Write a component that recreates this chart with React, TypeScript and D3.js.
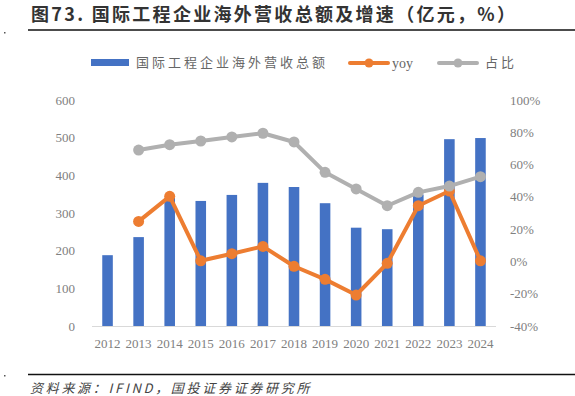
import * as d3 from "d3";

const years = ["2012", "2013", "2014", "2015", "2016", "2017", "2018", "2019", "2020", "2021", "2022", "2023", "2024"];
// 国际工程企业海外营收总额 (亿元)
const revenue = [188, 236, 340, 332, 348, 380, 369, 326, 261, 257, 349, 496, 499];
// yoy (%)
const yoy: (number | null)[] = [null, 24.8, 40.3, 0.4, 4.8, 9.3, -3.0, -11.1, -20.8, -1.2, 34.5, 43.6, 0.4];
// 占比 (%)
const share: (number | null)[] = [null, 69.0, 72.3, 74.6, 77.1, 79.4, 74.0, 55.2, 44.9, 34.5, 42.8, 46.7, 52.5];

const leftTicks = [0, 100, 200, 300, 400, 500, 600];
const rightTicks = [-40, -20, 0, 20, 40, 60, 80, 100];

const BLUE = "#4472C4";
const ORANGE = "#ED7D31";
const GRAY = "#B0B0B0";
const serif = "'Liberation Serif', 'Times New Roman', serif";
const cjk = "'Noto Sans CJK SC', sans-serif";

export default function App() {
  const width = 575;
  const height = 396;
  const plotLeft = 92;
  const plotRight = 496;
  const plotTop = 100;
  const plotBottom = 326;

  const x = d3.scaleBand<string>()
    .domain(years)
    .range([plotLeft, plotRight])
    .paddingInner(0.66)
    .paddingOuter(0.33);

  const yL = d3.scaleLinear().domain([0, 600]).range([plotBottom, plotTop]);
  const yR = d3.scaleLinear().domain([-40, 100]).range([plotBottom, plotTop]);

  const cx = (i: number) => (x(years[i]) ?? 0) + x.bandwidth() / 2;

  const line = d3.line<number | null>()
    .defined(d => d !== null)
    .x((_, i) => cx(i))
    .y(d => yR(d as number));

  return (
    <svg width={width} height={height} style={{ position: "absolute", left: 0, top: 0, background: "#fff" }}>
      {/* title */}
      <text x={31} y={21} fontFamily={cjk} fontWeight={700} fontSize={18} letterSpacing={2.3} fill="#333">
        图73. 国际工程企业海外营收总额及增速（亿元，%）
      </text>
      <line x1={28} x2={575} y1={30} y2={30} stroke="#111" strokeWidth={1.6} />
      <rect x={4} y={32} width={1.5} height={1.5} fill="#555" />

      {/* legend */}
      <rect x={91} y={59} width={38} height={7} fill={BLUE} />
      <text x={136} y={67} fontFamily={cjk} fontSize={13} letterSpacing={3} fill="#666">国际工程企业海外营收总额</text>
      <line x1={350} x2={388} y1={63} y2={63} stroke={ORANGE} strokeWidth={4} strokeLinecap="round" />
      <circle cx={369} cy={63} r={4.5} fill={ORANGE} />
      <text x={392} y={68} fontFamily={serif} fontSize={14} fill="#666">yoy</text>
      <line x1={439} x2={477} y1={63} y2={63} stroke={GRAY} strokeWidth={4} strokeLinecap="round" />
      <circle cx={458} cy={63} r={4.5} fill={GRAY} />
      <text x={485} y={67} fontFamily={cjk} fontSize={13} letterSpacing={3} fill="#666">占比</text>

      {/* left axis */}
      {leftTicks.map(t => (
        <text key={t} x={75} y={yL(t) + 4.5} textAnchor="end" fontFamily={serif} fontSize={13} fill="#808080">{t}</text>
      ))}
      {/* right axis */}
      {rightTicks.map(t => (
        <text key={t} x={510} y={yR(t) + 4.5} fontFamily={serif} fontSize={13} fill="#808080">{t}%</text>
      ))}

      {/* bars */}
      {revenue.map((v, i) => (
        <rect key={years[i]} x={x(years[i])} y={yL(v)} width={x.bandwidth()} height={yL(0) - yL(v)} fill={BLUE} />
      ))}

      <line x1={plotLeft} x2={plotRight} y1={plotBottom + 0.5} y2={plotBottom + 0.5} stroke="#D9D9D9" strokeWidth={1} />

      {/* x labels */}
      {years.map((yr, i) => (
        <text key={yr} x={cx(i)} y={348} textAnchor="middle" fontFamily={serif} fontSize={13} fill="#808080">{yr}</text>
      ))}

      {/* yoy */}
      <path d={line(yoy) || undefined} fill="none" stroke={ORANGE} strokeWidth={4} strokeLinejoin="round" />
      {yoy.map((v, i) => v === null ? null : (
        <circle key={i} cx={cx(i)} cy={yR(v)} r={5.5} fill={ORANGE} />
      ))}

      {/* share */}
      <path d={line(share) || undefined} fill="none" stroke={GRAY} strokeWidth={4} strokeLinejoin="round" />
      {share.map((v, i) => v === null ? null : (
        <circle key={i} cx={cx(i)} cy={yR(v)} r={5.5} fill={GRAY} />
      ))}

      {/* footer */}
      <line x1={28} x2={575} y1={374.5} y2={374.5} stroke="#111" strokeWidth={1.4} />
      <rect x={4} y={375} width={1.5} height={1.5} fill="#555" />
      <text x={30} y={393} fontFamily={cjk} fontSize={13} fontStyle="italic" letterSpacing={2.7} fill="#444">
        资料来源：IFIND，国投证券证券研究所
      </text>
    </svg>
  );
}
